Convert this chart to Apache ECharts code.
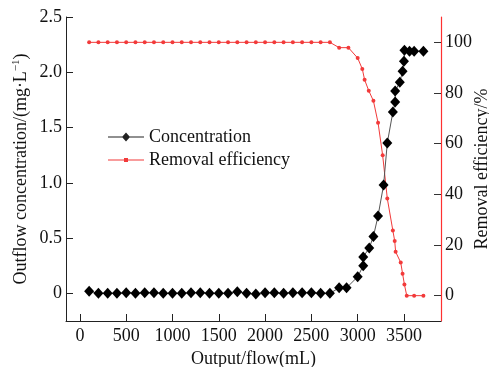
<!DOCTYPE html>
<html>
<head>
<meta charset="utf-8">
<script src="https://cdn.jsdelivr.net/npm/echarts@6/dist/echarts.min.js"></script>
<style>
  html, body { margin: 0; padding: 0; background: #fff; }
  #chart { width: 489px; height: 367px; }
</style>
</head>
<body>
<div id="chart"></div>
<script>
// Outflow concentration (mg/L) against cumulative outflow volume (mL)
const concFlow = [100, 200, 300, 400, 500, 600, 700, 800, 900, 1000, 1100, 1200, 1300, 1400,
  1500, 1600, 1700, 1800, 1900, 2000, 2100, 2200, 2300, 2400, 2500, 2600, 2700,
  2800, 2880, 3000, 3060, 3060, 3125, 3170, 3220, 3280, 3320, 3380, 3405, 3405,
  3455, 3485, 3500, 3505, 3560, 3610, 3710];
const concValues = [0.02, 0, 0, 0, 0.005, 0, 0.005, 0.005, 0, 0, 0, 0.005, 0.005, 0,
  0, 0, 0.015, 0, -0.005, 0.005, 0.005, 0, 0.005, 0.005, 0.005, 0, 0,
  0.05, 0.05, 0.15, 0.25, 0.33, 0.41, 0.515, 0.70, 0.98, 1.36, 1.64, 1.73, 1.83,
  1.91, 2.01, 2.10, 2.20, 2.19, 2.19, 2.19];

// Removal efficiency (%) against cumulative outflow volume (mL)
const effFlow = [100, 200, 300, 400, 500, 600, 700, 800, 900, 1000, 1100, 1200, 1300, 1400,
  1500, 1600, 1700, 1800, 1900, 2000, 2100, 2200, 2300, 2400, 2500, 2600, 2700,
  2800, 2900, 3000, 3050, 3075, 3120, 3170, 3220, 3270, 3320, 3380, 3400, 3410,
  3465, 3485, 3505, 3530, 3610, 3710];
const effValues = [100, 100, 100, 100, 100, 100, 100, 100, 100, 100, 100, 100, 100, 100,
  100, 100, 100, 100, 100, 100, 100, 100, 100, 100, 100, 100, 100,
  97.9, 97.9, 93.8, 89.5, 85.2, 80.9, 76.9, 68.3, 55.4, 38.4, 25.7, 21.6, 17.3,
  13.1, 8.7, 4.4, 0, 0, 0];

const flowTicks = [0, 500, 1000, 1500, 2000, 2500, 3000, 3500];
const concTicks = [0, 0.5, 1.0, 1.5, 2.0, 2.5];
const effTicks = [0, 20, 40, 60, 80, 100];

const FONT = '"Liberation Serif", "Times New Roman", serif';
const labelStyle = { fontFamily: FONT, fontSize: 18, color: '#111' };

// Legend glyphs: a thin line with the series marker in its middle (36 x 10 box)
const ICON_DIAMOND = 'path://M0,4.5L36,4.5L36,5.5L0,5.5Z M18,0.5L22,5L18,9.5L14,5Z';
const ICON_DOT = 'path://M0,4.5L36,4.5L36,5.5L0,5.5Z M16,3L20,3L20,7L16,7Z';

const chart = echarts.init(document.getElementById('chart'), null, { renderer: 'canvas' });

chart.setOption({
  animation: false,
  backgroundColor: '#fff',
  textStyle: { fontFamily: FONT },
  grid: { left: 66, right: 48, top: 17, bottom: 46, containLabel: false, outerBoundsMode: 'none' },
  legend: {
    orient: 'vertical',
    left: 103,
    top: 123,
    itemWidth: 36,
    itemHeight: 10,
    itemGap: 5,
    textStyle: { fontFamily: FONT, fontSize: 18, color: '#111' },
    data: [
      { name: 'Concentration', icon: ICON_DIAMOND, itemStyle: { color: '#222' } },
      { name: 'Removal efficiency', icon: ICON_DOT, itemStyle: { color: '#f23a3a' } }
    ]
  },
  xAxis: {
    type: 'value',
    min: -150,
    max: 3900,
    name: 'Output/flow(mL)',
    nameLocation: 'middle',
    nameGap: 29,
    nameMoveOverlap: false,
    nameTextStyle: labelStyle,
    axisLine: { show: true, onZero: false, lineStyle: { color: '#222', width: 1 } },
    axisTick: { show: true, inside: true, length: 7, customValues: flowTicks, lineStyle: { color: '#222' } },
    axisLabel: { customValues: flowTicks, margin: 6, formatter: v => String(v), ...labelStyle },
    splitLine: { show: false }
  },
  yAxis: [
    {
      type: 'value',
      position: 'left',
      min: -0.25,
      max: 2.5,
      name: '{a|Outflow concentration/(mg·L}{s|−1}{a|)}',
      nameLocation: 'middle',
      nameRotate: 90,
      nameGap: 35,
      nameMoveOverlap: false,
      nameTextStyle: {
        rich: {
          a: { fontFamily: FONT, fontSize: 18, color: '#111' },
          s: { fontFamily: FONT, fontSize: 11, color: '#111', padding: [0, 0, 9, 0] }
        }
      },
      axisLine: { show: true, onZero: false, lineStyle: { color: '#222', width: 1 } },
      axisTick: { show: true, inside: true, length: 7, customValues: concTicks, lineStyle: { color: '#222' } },
      axisLabel: {
        customValues: concTicks,
        margin: 4,
        formatter: v => (v === 0 ? '0' : v.toFixed(1)),
        ...labelStyle
      },
      splitLine: { show: false }
    },
    {
      type: 'value',
      position: 'right',
      min: -10,
      max: 110,
      name: 'Removal efficiency/%',
      nameLocation: 'middle',
      nameRotate: 90,
      nameGap: 32,
      nameMoveOverlap: false,
      nameTextStyle: labelStyle,
      axisLine: { show: true, onZero: false, lineStyle: { color: '#ff3030', width: 1.2 } },
      axisTick: { show: true, inside: true, length: 7, customValues: effTicks, lineStyle: { color: '#333' } },
      axisLabel: { customValues: effTicks, margin: 4, formatter: v => String(v), ...labelStyle },
      splitLine: { show: false }
    }
  ],
  series: [
    {
      name: 'Concentration',
      type: 'line',
      yAxisIndex: 0,
      data: concFlow.map((x, i) => [x, concValues[i]]),
      symbol: 'diamond',
      symbolSize: [10, 11],
      showAllSymbol: true,
      lineStyle: { color: '#555', width: 1 },
      itemStyle: { color: '#000' },
      z: 3
    },
    {
      name: 'Removal efficiency',
      type: 'line',
      yAxisIndex: 1,
      data: effFlow.map((x, i) => [x, effValues[i]]),
      symbol: 'circle',
      symbolSize: 4,
      showAllSymbol: true,
      lineStyle: { color: '#f23a3a', width: 1 },
      itemStyle: { color: '#f23a3a' },
      z: 2
    }
  ]
});
</script>
</body>
</html>
